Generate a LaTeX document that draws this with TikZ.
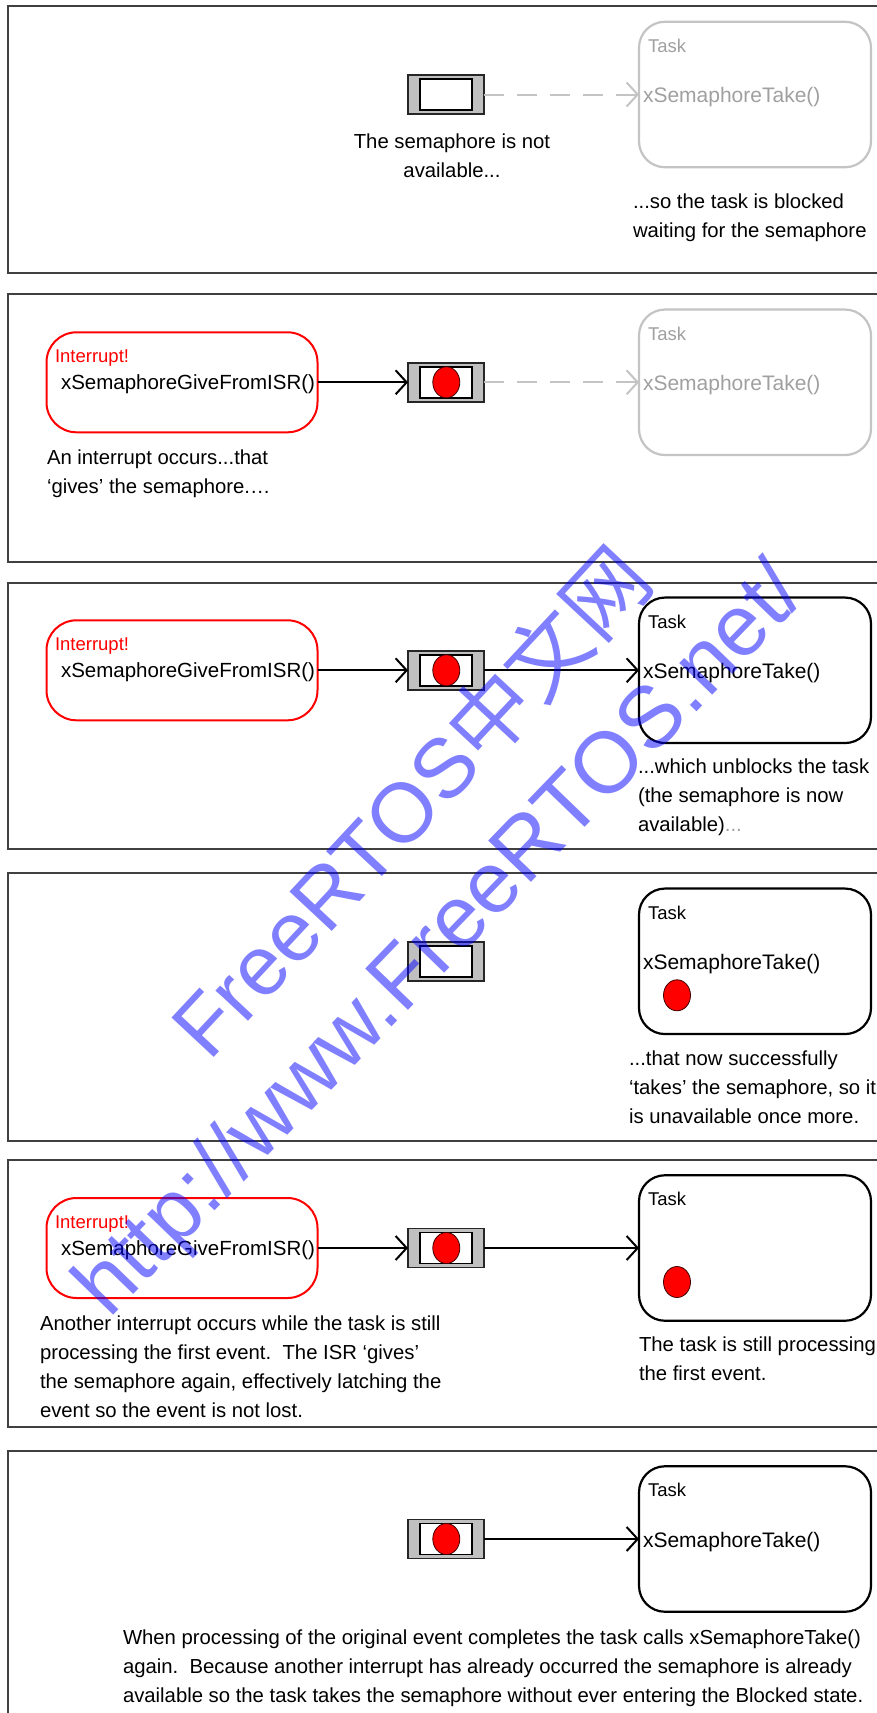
\documentclass[tikz,border=0pt]{standalone}
\usepackage{fontspec}
\setmainfont{Liberation Sans}
\newfontfamily\cjkfont{Noto Sans CJK SC}
\usetikzlibrary{arrows.meta,shapes.geometric}
\definecolor{panelgray}{HTML}{404040}
\definecolor{ghostline}{HTML}{C4C4C4}
\definecolor{ghosttext}{HTML}{A0A0A0}
\definecolor{semgray}{HTML}{C0C0C0}
\definecolor{isrred}{HTML}{FF0000}
\definecolor{wmblue}{HTML}{0000FF}
\newcommand{\txtlines}[1]{\begin{tabular}[t]{@{}l@{}}#1\end{tabular}}
\newcommand{\ctrlines}[1]{\begin{tabular}[t]{@{}c@{}}#1\end{tabular}}
\begin{document}
\begin{tikzpicture}[x=1pt,y=-1pt,
  every node/.style={inner sep=0pt, outer sep=0pt},
  panelbox/.style={draw=panelgray, line width=2pt},
  semout/.style={draw=black!85, line width=1.5pt, fill=semgray, minimum width=76pt, minimum height=39pt},
  semin/.style={draw=black, line width=1.8pt, fill=white, minimum width=52pt, minimum height=31pt},
  semtoken/.style={ellipse, draw=black!75!red, line width=0.8pt, fill=isrred, minimum width=27pt, minimum height=31pt},
  taskbox/.style={draw=black, line width=2.2pt, rounded corners=26pt, minimum width=232pt, minimum height=145.5pt},
  ghostbox/.style={taskbox, draw=ghostline},
  isrbox/.style={draw=isrred, line width=2pt, rounded corners=30pt, minimum width=271pt, minimum height=100pt},
  tasklabel/.style={font=\fontsize{18.5}{22}\selectfont, anchor=base west},
  calltext/.style={font=\fontsize{20.5}{29}\selectfont, anchor=base west},
  taketext/.style={font=\fontsize{21}{29}\selectfont, anchor=base west},
  bodytext/.style={font=\fontsize{20.3}{29}\selectfont, anchor=base west},
  flow/.style={line width=2pt, -{Straight Barb[length=11pt,width=24pt]}},
  ghostflow/.style={flow, draw=ghostline, dash pattern=on 20pt off 13pt},
  wm/.style={text=wmblue, text opacity=0.5, font=\fontsize{84}{100}\selectfont, anchor=base}
]
\useasboundingbox (0,0) rectangle (877,1713);
\fill[white] (0,0) rectangle (877,1713);

% panel frames
\draw[panelbox] (8,5.7) rectangle (950,273);
\draw[panelbox] (8,294) rectangle (950,561.7);
\draw[panelbox] (8,582.7) rectangle (950,849);
\draw[panelbox] (8,873) rectangle (950,1141);
\draw[panelbox] (8,1160) rectangle (950,1427);
\draw[panelbox] (8,1451.3) rectangle (950,1760);

% ---------------- panel 1
\node[semout] (s1) at (446,94.5) {};
\node[semin] (s1i) at (446,94.5) {};
\node[ghostbox] (k1) at (755,94.5) {};
\node[tasklabel, text=ghosttext] (k1t) at (648,52.3) {Task};
\node[taketext, text=ghosttext] (k1c) at (643,102.8) {xSemaphoreTake()};
\draw[ghostflow] (s1.east) -- (k1.west);
\node[bodytext, anchor=base] (n1a) at (452,148.3) {\ctrlines{The semaphore is not\\available...}};
\node[bodytext] (n1b) at (633,208) {\txtlines{...so the task is blocked\\waiting for the semaphore}};

% ---------------- panel 2
\node[isrbox] (r2) at (182,382.3) {};
\node[tasklabel, text=isrred] (r2t) at (55,362.8) {Interrupt!};
\node[calltext] (r2c) at (61,389.8) {xSemaphoreGiveFromISR()};
\node[semout] (s2) at (446,382.3) {};
\node[semin] (s2i) at (446,382.3) {};
\node[semtoken] (s2d) at (446.3,382.3) {};
\node[ghostbox] (k2) at (755,382.3) {};
\node[tasklabel, text=ghosttext] (k2t) at (648,340.1) {Task};
\node[taketext, text=ghosttext] (k2c) at (643,390.6) {xSemaphoreTake()};
\draw[flow] (r2.east) -- (s2.west);
\draw[ghostflow] (s2.east) -- (k2.west);
\node[bodytext] (n2a) at (47,464) {\txtlines{An interrupt occurs...that\\‘gives’ the semaphore.…}};

% ---------------- panel 3
\node[isrbox] (r3) at (182,670.3) {};
\node[tasklabel, text=isrred] (r3t) at (55,650.8) {Interrupt!};
\node[calltext] (r3c) at (61,677.8) {xSemaphoreGiveFromISR()};
\node[semout] (s3) at (446,670.3) {};
\node[semin] (s3i) at (446,670.3) {};
\node[semtoken] (s3d) at (446.3,670.3) {};
\node[taskbox] (k3) at (755,670.3) {};
\node[tasklabel] (k3t) at (648,628.1) {Task};
\node[taketext] (k3c) at (643,678.6) {xSemaphoreTake()};
\draw[flow] (r3.east) -- (s3.west);
\draw[flow] (s3.east) -- (k3.west);
\node[bodytext] (n3a) at (638,773) {\txtlines{...which unblocks the task\\(the semaphore is now\\available){\color{ghosttext}...}}};

% ---------------- panel 4
\node[semout] (s4) at (446,961.3) {};
\node[semin] (s4i) at (446,961.3) {};
\node[taskbox] (k4) at (755,961.3) {};
\node[tasklabel] (k4t) at (648,919.1) {Task};
\node[taketext] (k4c) at (643,969.6) {xSemaphoreTake()};
\node[semtoken] (k4d) at (677,995.3) {};
\node[bodytext] (n4a) at (629,1065) {\txtlines{...that now successfully\\‘takes’ the semaphore, so it\\is unavailable once more.}};

% ---------------- panel 5
\node[isrbox] (r5) at (182,1248) {};
\node[tasklabel, text=isrred] (r5t) at (55,1228.5) {Interrupt!};
\node[calltext] (r5c) at (61,1255.5) {xSemaphoreGiveFromISR()};
\node[semout] (s5) at (446,1248) {};
\node[semin] (s5i) at (446,1248) {};
\node[semtoken] (s5d) at (446.3,1248) {};
\node[taskbox] (k5) at (755,1248) {};
\node[tasklabel] (k5t) at (648,1205.8) {Task};
\node[semtoken] (k5d) at (677,1282) {};
\draw[flow] (r5.east) -- (s5.west);
\draw[flow] (s5.east) -- (k5.west);
\node[bodytext] (n5a) at (40,1330) {\txtlines{Another interrupt occurs while the task is still\\processing the first event.~~The ISR ‘gives’\\the semaphore again, effectively latching the\\event so the event is not lost.}};
\node[bodytext] (n5b) at (639,1351.7) {\txtlines{The task is still processing\\the first event.}};

% ---------------- panel 6
\node[semout] (s6) at (446,1539) {};
\node[semin] (s6i) at (446,1539) {};
\node[semtoken] (s6d) at (446.3,1539) {};
\node[taskbox] (k6) at (755,1539) {};
\node[tasklabel] (k6t) at (648,1496.8) {Task};
\node[taketext] (k6c) at (643,1547.3) {xSemaphoreTake()};
\draw[flow] (s6.east) -- (k6.west);
\node[bodytext] (n6a) at (123,1644.7) {\txtlines{When processing of the original event completes the task calls xSemaphoreTake()\\again.~~Because another interrupt has already occurred the semaphore is already\\available so the task takes the semaphore without ever entering the Blocked state.}};

% ---------------- watermark
\node[wm, rotate=47] (w1) at (433,823) {FreeRTOS{\cjkfont 中文网}};
\node[wm, rotate=46, font=\fontsize{86.5}{100}\selectfont] (w2) at (459,958) {http://www.FreeRTOS.net/};
\end{tikzpicture}
\end{document}
